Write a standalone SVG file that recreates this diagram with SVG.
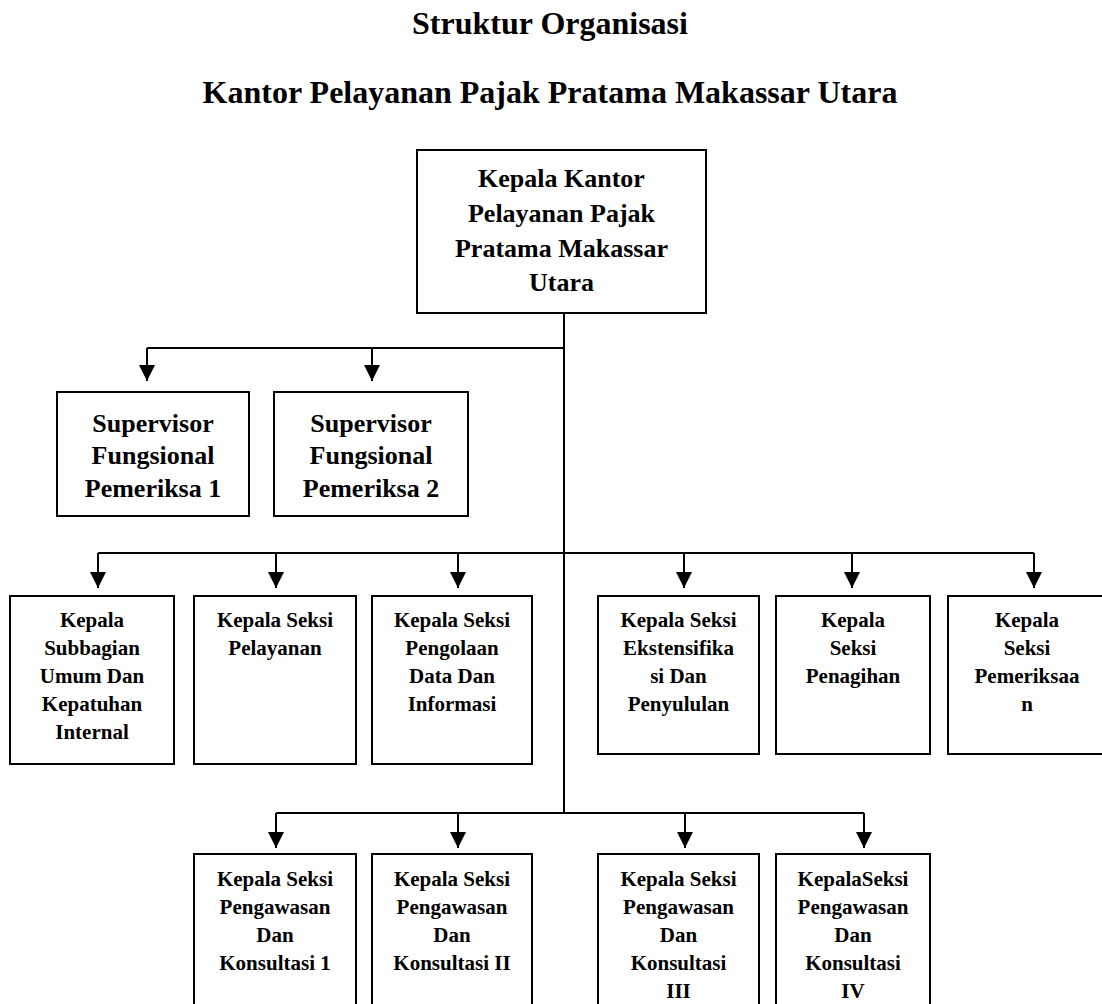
<svg xmlns="http://www.w3.org/2000/svg" width="1102" height="1004" viewBox="0 0 1102 1004">
<style>
text{font-family:"Liberation Serif","Times New Roman",serif;font-weight:bold;fill:#000;text-anchor:middle}
.t{font-size:32px}
.b1{font-size:26px}
.b2{font-size:21px}
rect{fill:#fff;stroke:#000;stroke-width:2}
.c path,.c line{stroke:#000;stroke-width:2;fill:none}
</style>
<defs>
<marker id="ah" markerUnits="userSpaceOnUse" markerWidth="16" markerHeight="16" viewBox="0 0 16 16" refX="16" refY="8" orient="auto">
<path d="M0,0 L16,8 L0,16 z" fill="#000"/>
</marker>
</defs>
<rect x="0" y="0" width="1102" height="1004" style="stroke:none"/>
<g id="title">
<text class="t" x="550" y="34">Struktur Organisasi</text>
<text class="t" x="550" y="103">Kantor Pelayanan Pajak Pratama Makassar Utara</text>
</g>
<g class="c" id="connectors">
<line x1="564" y1="313" x2="564" y2="813"/>
<path d="M564,348 H147"/>
<line x1="147" y1="348" x2="147" y2="381" marker-end="url(#ah)"/>
<line x1="372" y1="348" x2="372" y2="381" marker-end="url(#ah)"/>
<path d="M98,553 H1034"/>
<line x1="98" y1="553" x2="98" y2="588" marker-end="url(#ah)"/>
<line x1="276" y1="553" x2="276" y2="588" marker-end="url(#ah)"/>
<line x1="458" y1="553" x2="458" y2="588" marker-end="url(#ah)"/>
<line x1="684" y1="553" x2="684" y2="588" marker-end="url(#ah)"/>
<line x1="852" y1="553" x2="852" y2="588" marker-end="url(#ah)"/>
<line x1="1034" y1="553" x2="1034" y2="588" marker-end="url(#ah)"/>
<path d="M276,813 H864"/>
<line x1="276" y1="813" x2="276" y2="848" marker-end="url(#ah)"/>
<line x1="458" y1="813" x2="458" y2="848" marker-end="url(#ah)"/>
<line x1="685" y1="813" x2="685" y2="848" marker-end="url(#ah)"/>
<line x1="864" y1="813" x2="864" y2="848" marker-end="url(#ah)"/>
</g>
<g id="kepala-kantor">
<rect x="417" y="150" width="289" height="163"/>
<text class="b1" x="561.5" y="187">Kepala Kantor</text>
<text class="b1" x="561.5" y="222">Pelayanan Pajak</text>
<text class="b1" x="561.5" y="257">Pratama Makassar</text>
<text class="b1" x="561.5" y="291">Utara</text>
</g>
<g id="supervisor-1">
<rect x="57" y="392" width="192" height="124"/>
<text class="b1" x="153" y="432">Supervisor</text>
<text class="b1" x="153" y="464">Fungsional</text>
<text class="b1" x="153" y="497">Pemeriksa 1</text>
</g>
<g id="supervisor-2">
<rect x="274" y="392" width="194" height="124"/>
<text class="b1" x="371" y="432">Supervisor</text>
<text class="b1" x="371" y="464">Fungsional</text>
<text class="b1" x="371" y="497">Pemeriksa 2</text>
</g>
<g id="subbagian-umum">
<rect x="10" y="596" width="164" height="168"/>
<text class="b2" x="92" y="627">Kepala</text>
<text class="b2" x="92" y="655">Subbagian</text>
<text class="b2" x="92" y="683">Umum Dan</text>
<text class="b2" x="92" y="711">Kepatuhan</text>
<text class="b2" x="92" y="739">Internal</text>
</g>
<g id="seksi-pelayanan">
<rect x="194" y="596" width="162" height="168"/>
<text class="b2" x="275" y="627">Kepala Seksi</text>
<text class="b2" x="275" y="655">Pelayanan</text>
</g>
<g id="seksi-pdi">
<rect x="372" y="596" width="160" height="168"/>
<text class="b2" x="452" y="627">Kepala Seksi</text>
<text class="b2" x="452" y="655">Pengolaan</text>
<text class="b2" x="452" y="683">Data Dan</text>
<text class="b2" x="452" y="711">Informasi</text>
</g>
<g id="seksi-ekstensifikasi">
<rect x="598" y="596" width="161" height="158"/>
<text class="b2" x="678.5" y="627">Kepala Seksi</text>
<text class="b2" x="678.5" y="655">Ekstensifika</text>
<text class="b2" x="678.5" y="683">si Dan</text>
<text class="b2" x="678.5" y="711">Penyululan</text>
</g>
<g id="seksi-penagihan">
<rect x="776" y="596" width="154" height="158"/>
<text class="b2" x="853" y="627">Kepala</text>
<text class="b2" x="853" y="655">Seksi</text>
<text class="b2" x="853" y="683">Penagihan</text>
</g>
<g id="seksi-pemeriksaan">
<rect x="948" y="596" width="158" height="158"/>
<text class="b2" x="1027" y="627">Kepala</text>
<text class="b2" x="1027" y="655">Seksi</text>
<text class="b2" x="1027" y="683">Pemeriksaa</text>
<text class="b2" x="1027" y="711">n</text>
</g>
<g id="waskon-1">
<rect x="194" y="854" width="162" height="160"/>
<text class="b2" x="275" y="886">Kepala Seksi</text>
<text class="b2" x="275" y="914">Pengawasan</text>
<text class="b2" x="275" y="942">Dan</text>
<text class="b2" x="275" y="970">Konsultasi 1</text>
</g>
<g id="waskon-2">
<rect x="372" y="854" width="160" height="160"/>
<text class="b2" x="452" y="886">Kepala Seksi</text>
<text class="b2" x="452" y="914">Pengawasan</text>
<text class="b2" x="452" y="942">Dan</text>
<text class="b2" x="452" y="970">Konsultasi II</text>
</g>
<g id="waskon-3">
<rect x="598" y="854" width="161" height="160"/>
<text class="b2" x="678.5" y="886">Kepala Seksi</text>
<text class="b2" x="678.5" y="914">Pengawasan</text>
<text class="b2" x="678.5" y="942">Dan</text>
<text class="b2" x="678.5" y="970">Konsultasi</text>
<text class="b2" x="678.5" y="998">III</text>
</g>
<g id="waskon-4">
<rect x="776" y="854" width="154" height="160"/>
<text class="b2" x="853" y="886">KepalaSeksi</text>
<text class="b2" x="853" y="914">Pengawasan</text>
<text class="b2" x="853" y="942">Dan</text>
<text class="b2" x="853" y="970">Konsultasi</text>
<text class="b2" x="853" y="998">IV</text>
</g>
</svg>
